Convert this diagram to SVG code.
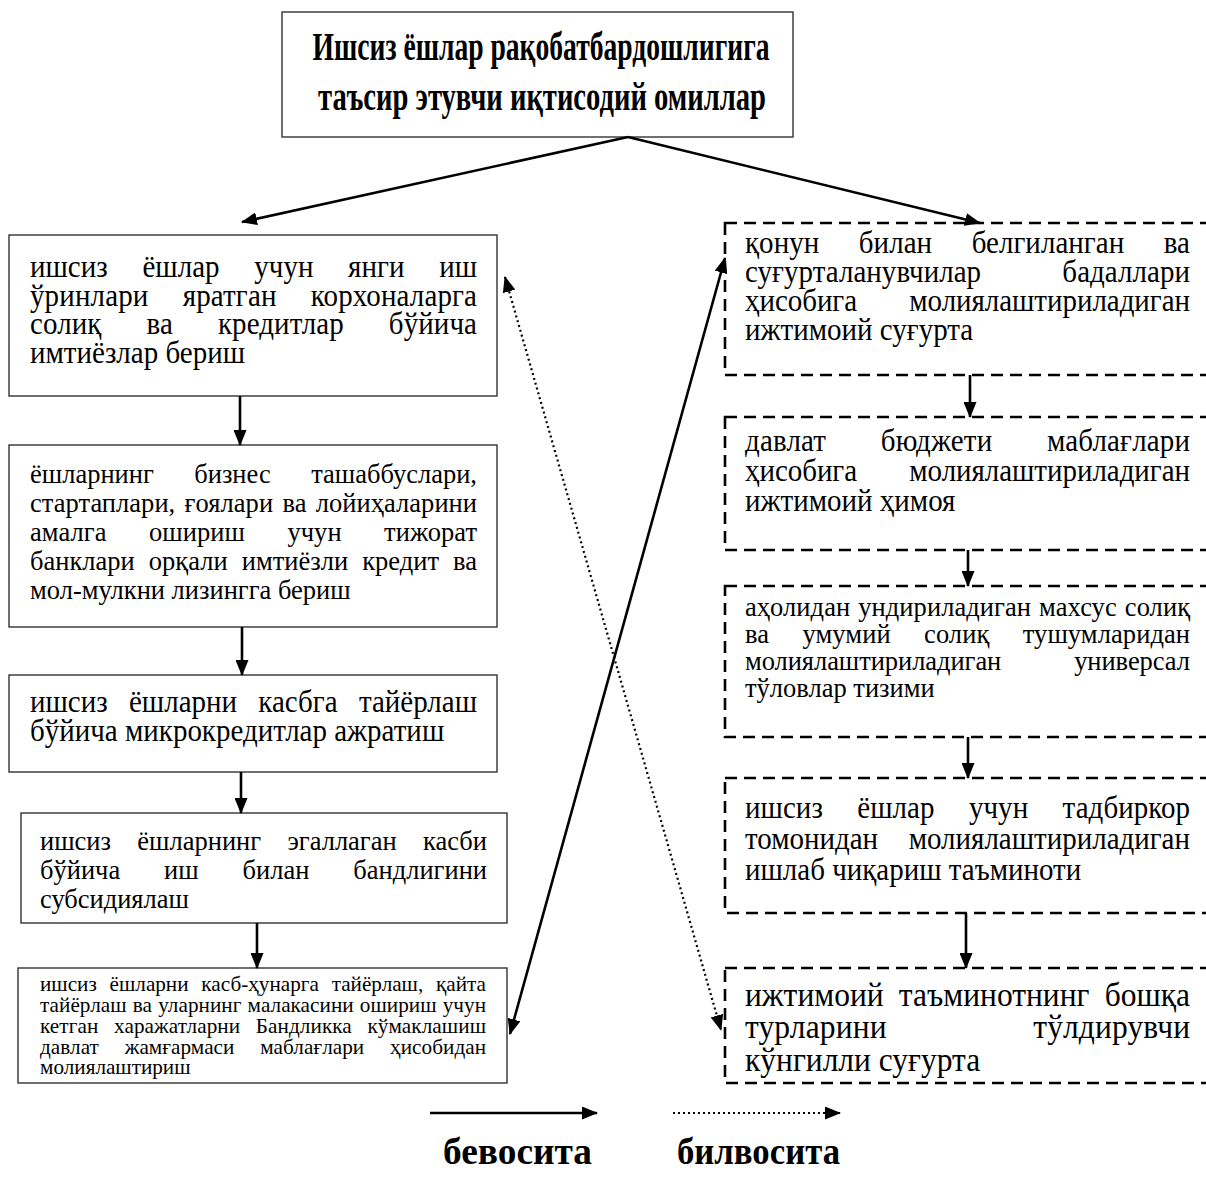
<svg xmlns="http://www.w3.org/2000/svg" width="1206" height="1186" viewBox="0 0 1206 1186">
<style>
.box{fill:#fff;stroke:#333;stroke-width:1.4}
.dbox{fill:#fff;stroke:#000;stroke-width:2.6;stroke-dasharray:12 7}
text{font-family:"Liberation Serif","Times New Roman","DejaVu Serif",serif;fill:#000}
.f29{font-size:29px}
.f265{font-size:26.5px}
.f21{font-size:21.2px}
.f315{font-size:31.5px}
.hd{font-size:40px;font-weight:bold}
.lg{font-size:38px;font-weight:bold}
.c{stroke:#000;stroke-width:2.6;fill:none}
.d{stroke:#000;stroke-width:2.2;stroke-dasharray:2 3;fill:none}
</style>
<defs>
<marker id="ah" viewBox="0 0 16 13" refX="15" refY="6.5" markerWidth="16" markerHeight="13" markerUnits="userSpaceOnUse" orient="auto-start-reverse"><path d="M0,0 L16,6.5 L0,13 z" fill="#000"/></marker>
</defs>
<rect x="0" y="0" width="1206" height="1186" fill="#fff"/>

<g id="title">
<rect class="box" x="282" y="12" width="511" height="125"/>
<text class="hd" x="541" y="60" text-anchor="middle" textLength="457" lengthAdjust="spacingAndGlyphs">Ишсиз ёшлар рақобатбардошлигига</text>
<text class="hd" x="542" y="110" text-anchor="middle" textLength="448" lengthAdjust="spacingAndGlyphs">таъсир этувчи иқтисодий омиллар</text>
</g>

<g id="left1">
<rect class="box" x="9" y="235" width="488" height="161"/>
<text class="f29" transform="translate(30,277) scale(1,1.1)" word-spacing="27.4" textLength="447" lengthAdjust="spacing">ишсиз ёшлар учун янги иш</text>
<text class="f29" transform="translate(30,305.5) scale(1,1.1)" word-spacing="26.9" textLength="447" lengthAdjust="spacing">ўринлари яратган корхоналарга</text>
<text class="f29" transform="translate(30,334) scale(1,1.1)" word-spacing="37.7" textLength="447" lengthAdjust="spacing">солиқ ва кредитлар бўйича</text>
<text class="f29" transform="translate(30,362.5) scale(1,1.1)">имтиёзлар бериш</text>
</g>

<g id="left2">
<rect class="box" x="9" y="445" width="488" height="182"/>
<text class="f265" transform="translate(30,483) scale(1,1.06)" word-spacing="33.8" textLength="447" lengthAdjust="spacing">ёшларнинг бизнес ташаббуслари,</text>
<text class="f265" transform="translate(30,512) scale(1,1.06)" word-spacing="2.7" textLength="447" lengthAdjust="spacing">стартаплари, ғоялари ва лойиҳаларини</text>
<text class="f265" transform="translate(30,541) scale(1,1.06)" word-spacing="35.8" textLength="447" lengthAdjust="spacing">амалга ошириш учун тижорат</text>
<text class="f265" transform="translate(30,570) scale(1,1.06)" word-spacing="7.4" textLength="447" lengthAdjust="spacing">банклари орқали имтиёзли кредит ва</text>
<text class="f265" transform="translate(30,599) scale(1,1.06)">мол-мулкни лизингга бериш</text>
</g>

<g id="left3">
<rect class="box" x="9" y="675" width="488" height="97"/>
<text class="f29" transform="translate(30,712) scale(1,1.1)" word-spacing="14" textLength="447" lengthAdjust="spacing">ишсиз ёшларни касбга тайёрлаш</text>
<text class="f29" transform="translate(30,741) scale(1,1.1)">бўйича микрокредитлар ажратиш</text>
</g>

<g id="left4">
<rect class="box" x="21" y="813" width="486" height="110"/>
<text class="f265" transform="translate(40,850) scale(1,1.06)" word-spacing="19.7" textLength="447" lengthAdjust="spacing">ишсиз ёшларнинг эгаллаган касби</text>
<text class="f265" transform="translate(40,879) scale(1,1.06)" word-spacing="37.3" textLength="447" lengthAdjust="spacing">бўйича иш билан бандлигини</text>
<text class="f265" transform="translate(40,908) scale(1,1.06)">субсидиялаш</text>
</g>

<g id="left5">
<rect class="box" x="18" y="968" width="489" height="115"/>
<text class="f21" x="40" y="991" word-spacing="7.5" textLength="446" lengthAdjust="spacing">ишсиз ёшларни касб-ҳунарга тайёрлаш, қайта</text>
<text class="f21" x="40" y="1012" word-spacing="0.8" textLength="446" lengthAdjust="spacing">тайёрлаш ва уларнинг малакасини ошириш учун</text>
<text class="f21" x="40" y="1033" word-spacing="10.3" textLength="446" lengthAdjust="spacing">кетган харажатларни Бандликка кўмаклашиш</text>
<text class="f21" x="40" y="1053.5" word-spacing="20.5" textLength="446" lengthAdjust="spacing">давлат жамғармаси маблағлари ҳисобидан</text>
<text class="f21" x="40" y="1074">молиялаштириш</text>
</g>

<g id="right1">
<rect class="dbox" x="725" y="223" width="500" height="152"/>
<text class="f29" transform="translate(745,253) scale(1,1.1)" word-spacing="32.3" textLength="445" lengthAdjust="spacing">қонун билан белгиланган ва</text>
<text class="f29" transform="translate(745,282) scale(1,1.1)" word-spacing="73.9" textLength="445" lengthAdjust="spacing">суғурталанувчилар бадаллари</text>
<text class="f29" transform="translate(745,311) scale(1,1.1)" word-spacing="45.1" textLength="445" lengthAdjust="spacing">ҳисобига молиялаштириладиган</text>
<text class="f29" transform="translate(745,340) scale(1,1.1)">ижтимоий суғурта</text>
</g>

<g id="right2">
<rect class="dbox" x="725" y="417" width="500" height="133"/>
<text class="f29" transform="translate(745,451) scale(1,1.1)" word-spacing="47.2" textLength="445" lengthAdjust="spacing">давлат бюджети маблағлари</text>
<text class="f29" transform="translate(745,481) scale(1,1.1)" word-spacing="45.1" textLength="445" lengthAdjust="spacing">ҳисобига молиялаштириладиган</text>
<text class="f29" transform="translate(745,511) scale(1,1.1)">ижтимоий ҳимоя</text>
</g>

<g id="right3">
<rect class="dbox" x="725" y="586" width="500" height="151"/>
<text class="f265" x="745" y="616" word-spacing="1.4" textLength="445" lengthAdjust="spacing">аҳолидан ундириладиган махсус солиқ</text>
<text class="f265" x="745" y="643" word-spacing="26.7" textLength="445" lengthAdjust="spacing">ва умумий солиқ тушумларидан</text>
<text class="f265" x="745" y="670" word-spacing="66.4" textLength="445" lengthAdjust="spacing">молиялаштириладиган универсал</text>
<text class="f265" x="745" y="697">тўловлар тизими</text>
</g>

<g id="right4">
<rect class="dbox" x="725" y="778" width="500" height="135"/>
<text class="f29" transform="translate(745,818) scale(1,1.1)" word-spacing="27.1" textLength="445" lengthAdjust="spacing">ишсиз ёшлар учун тадбиркор</text>
<text class="f29" transform="translate(745,849) scale(1,1.1)" word-spacing="23.3" textLength="445" lengthAdjust="spacing">томонидан молиялаштириладиган</text>
<text class="f29" transform="translate(745,880) scale(1,1.1)">ишлаб чиқариш таъминоти</text>
</g>

<g id="right5">
<rect class="dbox" x="725" y="968" width="500" height="115"/>
<text class="f315" transform="translate(745,1006) scale(1,1.06)" word-spacing="7.3" textLength="445" lengthAdjust="spacing">ижтимоий таъминотнинг бошқа</text>
<text class="f315" transform="translate(745,1038) scale(1,1.06)" word-spacing="138.6" textLength="445" lengthAdjust="spacing">турларини тўлдирувчи</text>
<text class="f315" transform="translate(745,1071) scale(1,1.06)">кўнгилли суғурта</text>
</g>

<g id="connectors">
<line class="c" x1="628" y1="137" x2="242" y2="222" marker-end="url(#ah)"/>
<line class="c" x1="628" y1="137" x2="980" y2="223" marker-end="url(#ah)"/>
<line class="c" x1="240" y1="396" x2="240" y2="445" marker-end="url(#ah)"/>
<line class="c" x1="242" y1="627" x2="242" y2="675" marker-end="url(#ah)"/>
<line class="c" x1="241" y1="772" x2="241" y2="813" marker-end="url(#ah)"/>
<line class="c" x1="257" y1="923" x2="257" y2="968" marker-end="url(#ah)"/>
<line class="c" x1="970" y1="375" x2="970" y2="417" marker-end="url(#ah)"/>
<line class="c" x1="968" y1="550" x2="968" y2="586" marker-end="url(#ah)"/>
<line class="c" x1="968" y1="737" x2="968" y2="778" marker-end="url(#ah)"/>
<line class="c" x1="966" y1="913" x2="966" y2="968" marker-end="url(#ah)"/>
<line class="c" x1="510" y1="1034" x2="725" y2="258" marker-start="url(#ah)" marker-end="url(#ah)"/>
<line class="d" x1="505" y1="277" x2="721" y2="1030" marker-start="url(#ah)" marker-end="url(#ah)"/>
</g>

<g id="legend">
<line class="c" x1="430" y1="1113" x2="597" y2="1113" marker-end="url(#ah)"/>
<line class="d" x1="673" y1="1113" x2="840" y2="1113" marker-end="url(#ah)"/>
<text class="lg" x="443" y="1164" textLength="149" lengthAdjust="spacingAndGlyphs">бевосита</text>
<text class="lg" x="677" y="1164" textLength="163" lengthAdjust="spacingAndGlyphs">билвосита</text>
</g>
</svg>
